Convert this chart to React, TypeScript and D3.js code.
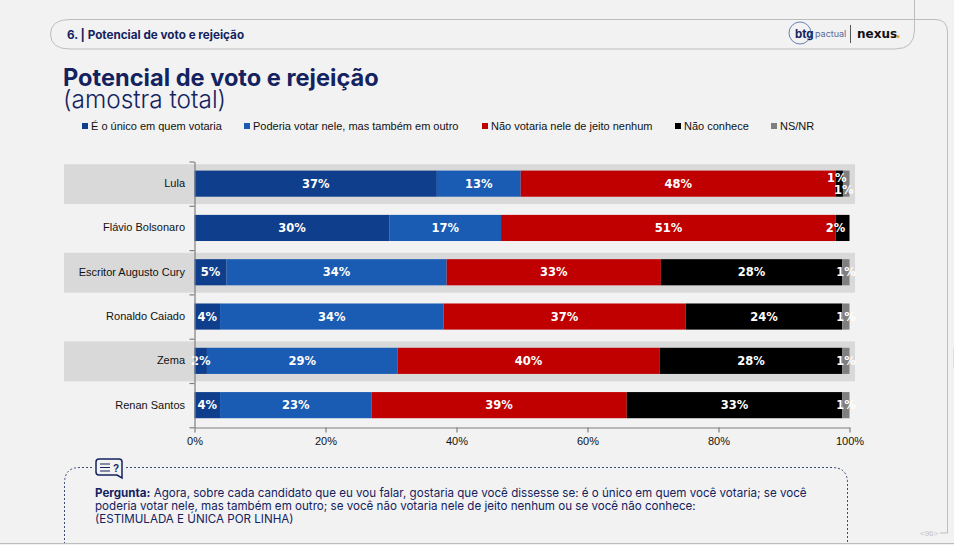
import { useRef, useEffect } from "react";
import * as d3 from "d3";

const candidates = ["Lula", "Flávio Bolsonaro", "Escritor Augusto Cury", "Ronaldo Caiado", "Zema", "Renan Santos"];
const seriesNames = [
  "É o único em quem votaria",
  "Poderia votar nele, mas também em outro",
  "Não votaria nele de jeito nenhum",
  "Não conhece",
  "NS/NR",
];
const unico = [37, 29.8, 4.9, 3.9, 1.9, 3.9];
const poderia = [12.8, 17, 33.6, 34.1, 29.1, 23.1];
const naoVotaria = [48.1, 51.1, 32.7, 37, 40, 39];
const naoConhece = [1.1, 2.1, 27.7, 23.9, 27.9, 32.9];
const nsnr = [1, 0, 1.1, 1.1, 1.1, 1.1];
const xTicks = [0, 20, 40, 60, 80, 100];
const colors = ["#0f3f8c", "#1a5bb4", "#c00000", "#000000", "#7f7f7f"];
const legendX = [82, 244, 482, 675, 771];

const navy = "#14235f";
const sans = "'Liberation Sans', Arial, sans-serif";
const wide = "'DejaVu Sans', sans-serif";
const body = "Inter, sans-serif";

export default function App() {
  const ref = useRef<SVGGElement>(null);

  useEffect(() => {
    if (!ref.current) return;
    const g = d3.select(ref.current);
    g.selectAll("*").remove();

    const x = d3.scaleLinear().domain([0, 100]).range([194.5, 849.5]);
    const rows = d3.scaleLinear().domain([0, 6]).range([161.5, 427.3]);
    const band = d3.scaleBand<string>().domain(candidates).range([161.5, 427.3]).paddingInner(0.41).paddingOuter(0.205);
    const stripe = d3.scaleBand<string>().domain(candidates).range([161.5, 427.3]).paddingInner(0.1).paddingOuter(0.05);

    // alternating grey rows behind the bars
    g.append("g")
      .selectAll("rect")
      .data(candidates.filter((_, i) => i % 2 === 0))
      .join("rect")
      .attr("x", 64)
      .attr("width", 791)
      .attr("y", d => stripe(d)! + 0.5)
      .attr("height", stripe.bandwidth())
      .attr("fill", "#d9d9d9");

    // stacked bars
    const table = candidates.map((name, i) => ({
      name,
      s0: unico[i],
      s1: poderia[i],
      s2: naoVotaria[i],
      s3: naoConhece[i],
      s4: nsnr[i],
    }));
    const stack = d3.stack<any>().keys(["s0", "s1", "s2", "s3", "s4"])(table);

    stack.forEach((layer, si) => {
      const lg = g.append("g");
      lg.selectAll("rect")
        .data(layer)
        .join("rect")
        .attr("x", d => x(d[0]))
        .attr("width", d => x(d[1]) - x(d[0]))
        .attr("y", d => band(d.data.name)!)
        .attr("height", band.bandwidth())
        .attr("fill", colors[si]);
    });

    // labels go on top of every segment, small ones overflow
    stack.forEach(layer => {
      g.append("g")
        .selectAll("text")
        .data(layer.filter(d => d[1] - d[0] > 0))
        .join("text")
        .attr("x", d => {
          const cx = x((d[0] + d[1]) / 2);
          if (d[1] - d[0] >= 3) return cx;
          if (d.data.name === "Lula") return cx - 2.5;
          if (d.data.name === "Flávio Bolsonaro") return cx - 7;
          return cx;
        })
        .attr("y", d => {
          const cy = band(d.data.name)! + band.bandwidth() / 2 + 4;
          if (d.data.name !== "Lula" || d[1] - d[0] >= 2) return cy;
          return d[1] >= 100 ? cy + 6 : cy - 6;
        })
        .attr("text-anchor", "middle")
        .attr("fill", "#fff")
        .style("font-family", wide)
        .style("font-weight", 700)
        .style("font-size", "11.5px")
        .text(d => `${Math.round(d[1] - d[0])}%`);
    });

    // candidate names
    g.append("g")
      .selectAll("text")
      .data(candidates)
      .join("text")
      .attr("x", 185)
      .attr("y", d => band(d)! + band.bandwidth() / 2 + 3.5)
      .attr("text-anchor", "end")
      .attr("fill", "#111")
      .style("font-family", sans)
      .style("font-size", "11px")
      .text(d => d);

    // axes
    const axisX = g.append("g")
      .attr("transform", "translate(0,427.5)")
      .call(d3.axisBottom(x).tickValues(xTicks).tickSize(5).tickSizeOuter(0).tickFormat(d => `${d}%`));
    const axisY = g.append("g")
      .attr("transform", "translate(194.5,0)")
      .call(d3.axisLeft(rows).tickValues(d3.range(7)).tickSize(5).tickSizeOuter(0).tickFormat(() => ""));
    [axisX, axisY].forEach(a => {
      a.selectAll("path,line").attr("stroke", "#7f7f7f").attr("stroke-width", 1.2);
    });
    axisX.selectAll("text")
      .attr("y", 9.5)
      .attr("fill", "#111")
      .style("font-family", sans)
      .style("font-size", "11px");

    // legend
    const legend = g.append("g")
      .selectAll("g")
      .data(seriesNames)
      .join("g")
      .attr("transform", (_, i) => `translate(${legendX[i]},123)`);
    legend.append("rect").attr("width", 6).attr("height", 6).attr("fill", (_, i) => colors[i]);
    legend.append("text")
      .attr("x", 9)
      .attr("y", 7)
      .attr("fill", "#111")
      .style("font-family", sans)
      .style("font-size", "11px")
      .text(d => d);
  }, []);

  return (
    <svg
      width={954}
      height={545}
      viewBox="0 0 954 545"
      style={{ position: "absolute", left: 0, top: 0, background: "#f2f2f2" }}
    >
      {/* page frame */}
      <path d="M914.5 0V30Q914.5 49 895 49H70Q50.5 49 50.5 34Q50.5 19.5 70 19.5H935Q947.5 19.5 947.5 32V533H940" fill="none" stroke="#bdbdbd" />
      <path d="M0 543.5H954" stroke="#bdbdbd" />
      <rect x={953} y={348} width={1} height={20} fill="#e0e0e0" />
      <text x={920} y={536} fontSize={8} fill="#c4c4c4" fontFamily={sans}>&lt;96&gt;</text>

      {/* header */}
      <text x={67} y={39} fontSize={11.7} fontWeight={700} fill={navy} fontFamily={body}>6. | Potencial de voto e rejeição</text>
      <circle cx={800} cy={33} r={11} fill="none" stroke="#6d7fb4" />
      <text x={795} y={38} fontSize={11.5} fontWeight={700} fill={navy} fontFamily={body}>btg</text>
      <text x={815} y={37} fontSize={9} fill="#5b6a9c" fontFamily={body}>pactual</text>
      <path d="M850.5 25V43" stroke="#555" />
      <text x={857} y={38} fontSize={12} fontWeight={700} fill="#111" fontFamily={wide}>nexus</text>
      <circle cx={898} cy={36.5} r={1.6} fill="#e8a33d" />

      {/* title */}
      <text x={63} y={86} fontSize={23.6} fontWeight={700} fill={navy} fontFamily={body}>Potencial de voto e rejeição</text>
      <text x={63} y={107.5} fontSize={24.4} fontWeight={300} fill={navy} fontFamily={body}>(amostra total)</text>

      <g ref={ref} />

      {/* question box */}
      <path d="M92 467.5H80Q64.5 467.5 64.5 483V543M126 467.5H832Q847.5 467.5 847.5 483V543" fill="none" stroke="#3c4a78" strokeDasharray="2 2" />
      <path d="M99 459H119Q122 459 122 462V478L117 475H99Q96 475 96 472V462Q96 459 99 459Z" fill="none" stroke={navy} strokeWidth={1.5} />
      <path d="M100 464H110M100 467.5H110M100 471H110" stroke={navy} strokeWidth={1.2} />
      <text x={113} y={472} fontSize={10} fontWeight={700} fill={navy} fontFamily={sans}>?</text>
      <text fontSize={11.6} fill={navy} fontFamily={body}>
        <tspan x={95} y={497} fontWeight={700}>Pergunta:</tspan>
        <tspan> Agora, sobre cada candidato que eu vou falar, gostaria que você dissesse se: é o único em quem você votaria; se você</tspan>
        <tspan x={95} y={510}>poderia votar nele, mas também em outro; se você não votaria nele de jeito nenhum ou se você não conhece:</tspan>
        <tspan x={95} y={523}>(ESTIMULADA E ÚNICA POR LINHA)</tspan>
      </text>
    </svg>
  );
}
